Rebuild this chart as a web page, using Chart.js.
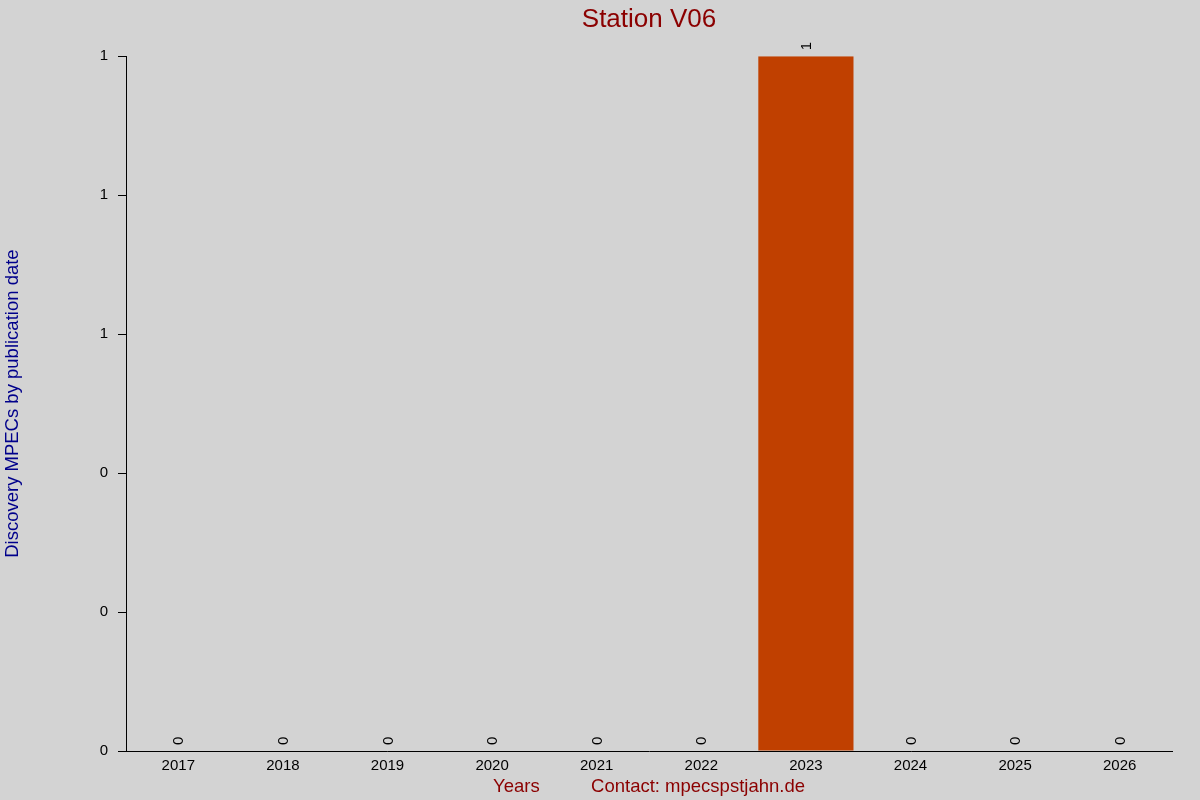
<!DOCTYPE html>
<html>
<head>
<meta charset="utf-8">
<title>Station V06</title>
<script src="https://cdn.jsdelivr.net/npm/chart.js@4/dist/chart.umd.min.js"></script>
<style>
    html, body { margin: 0; padding: 0; background: #d3d3d3; }
    #caja { width: 1200px; height: 800px; }
</style>
</head>
<body>
<div id="caja"><canvas id="grafico" width="1200" height="800"></canvas></div>
<script>
// Datos del gráfico: un año por barra
const anios = ['2017', '2018', '2019', '2020', '2021', '2022', '2023', '2024', '2025', '2026'];
const mpecs = [0, 0, 0, 0, 0, 0, 1, 0, 0, 0];

// Eje Y: 0 a 1 en pasos de 0.2 (se muestran sin decimales)
const yMin = 0;
const yMax = 1;
const yPaso = 0.2;

const fuente = "'Liberation Sans', Arial, sans-serif";

// Dibuja el valor de cada barra girado 90 grados encima de la barra
const etiquetasBarras = {
    id: 'etiquetasBarras',
    afterDatasetsDraw(chart) {
        const ctx = chart.ctx;
        const meta = chart.getDatasetMeta(0);
        ctx.save();
        ctx.fillStyle = '#000';
        ctx.font = '15px ' + fuente;
        ctx.textAlign = 'left';
        ctx.textBaseline = 'middle';
        meta.data.forEach((barra, i) => {
            ctx.save();
            ctx.translate(barra.x + 1, barra.y - 6);
            ctx.rotate(-Math.PI / 2);
            ctx.fillText(String(mpecs[i]), 0, 0);
            ctx.restore();
        });
        ctx.restore();
    }
};

// Fondo gris de todo el lienzo
const fondo = {
    id: 'fondo',
    beforeDraw(chart) {
        const ctx = chart.ctx;
        ctx.save();
        ctx.fillStyle = '#d3d3d3';
        ctx.fillRect(0, 0, chart.width, chart.height);
        ctx.restore();
    }
};

new Chart(document.getElementById('grafico'), {
    type: 'bar',
    data: {
        labels: anios,
        datasets: [{
            label: 'MPECs',
            data: mpecs,
            backgroundColor: '#c04000',
            borderWidth: 0,
            categoryPercentage: 0.91,
            barPercentage: 1
        }]
    },
    options: {
        responsive: false,
        animation: false,
        devicePixelRatio: 1,
        layout: { padding: { left: 0, right: 28, top: 0, bottom: 0 } },
        plugins: {
            legend: { display: false },
            tooltip: { enabled: false },
            title: {
                display: true,
                fullSize: false,
                text: 'Station V06',
                color: '#8b0000',
                font: { family: fuente, size: 26, weight: 'normal' },
                padding: { top: 4, bottom: 21 }
            }
        },
        scales: {
            x: {
                grid: { display: false, drawTicks: false, tickLength: 0 },
                border: { display: true, color: '#000', width: 1 },
                ticks: { color: '#000', font: { family: fuente, size: 15 }, padding: 6 },
                title: {
                    display: true,
                    text: 'Years          Contact: mpecspstjahn.de',
                    color: '#8b0000',
                    font: { family: fuente, size: 18.5 },
                    padding: { top: 0, bottom: 2 }
                },
                afterFit(scale) { scale.height = 49; }
            },
            y: {
                min: yMin,
                max: yMax,
                grid: { drawOnChartArea: false, drawTicks: true, tickLength: 8, color: '#000' },
                border: { display: true, color: '#000', width: 1 },
                ticks: {
                    stepSize: yPaso,
                    color: '#000',
                    font: { family: fuente, size: 15 },
                    padding: 10,
                    callback: v => v.toFixed(0)
                },
                title: {
                    display: true,
                    text: 'Discovery MPECs by publication date',
                    color: '#00008b',
                    font: { family: fuente, size: 18.5 },
                    padding: { top: 2, bottom: 0 }
                },
                afterFit(scale) { scale.width = 126; }
            }
        }
    },
    plugins: [fondo, etiquetasBarras]
});
</script>
</body>
</html>
